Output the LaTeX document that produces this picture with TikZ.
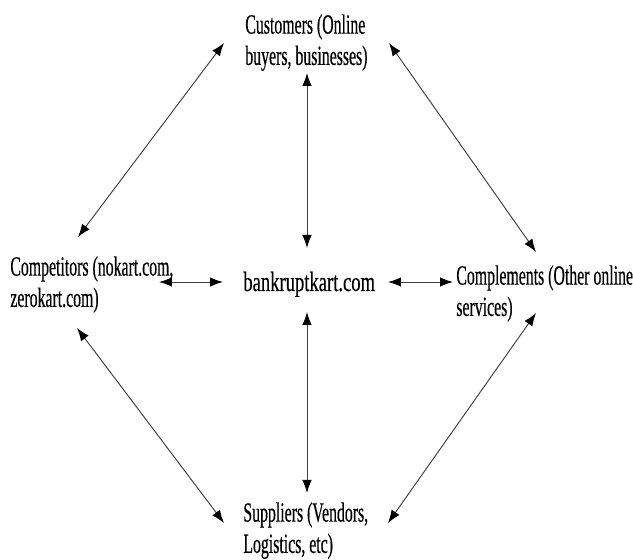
\documentclass[tikz,border=0pt]{standalone}
\usepackage{fontspec}
\setmainfont[FakeStretch=0.57,FakeBold=0.4]{Liberation Serif}
\newfontfamily\corefont[FakeStretch=0.67,FakeBold=0.4]{Liberation Serif}
\usetikzlibrary{arrows.meta}

\begin{document}
\begin{tikzpicture}[
    x=0.02cm, y=-0.02cm,
    lbl/.style={anchor=north west, inner sep=0pt, align=left,
                font=\fontsize{15.8}{17.8}\selectfont},
    arr/.style={{Latex[length=2.6mm,width=1.9mm,color=black]}-{Latex[length=2.6mm,width=1.9mm,color=black]},
                line width=0.55pt, black!75}
]
    \useasboundingbox (0,0) rectangle (633,560);

    \node[lbl] (cust) at (245,14) {Customers (Online\\buyers, businesses)};
    \node[lbl] (compet) at (10,256) {Competitors (nokart.com,\\zerokart.com)};
    \node[lbl, anchor=base west, font=\fontsize{15.8}{17.8}\corefont] (core) at (243,291) {bankruptkart.com};
    \node[lbl] (compl) at (456,265) {Complements (Other online\\services)};
    \node[lbl] (suppl) at (243,502) {Suppliers (Vendors,\\Logistics, etc)};

    \draw[arr] ([shift={(-21,29)}]cust.north west) -- ([shift={(68,-19)}]compet.north west);
    \draw[arr] ([shift={(144,29)}]cust.north west) -- ([shift={(80,-13)}]compl.north west);
    \draw[arr] ([shift={(62,59)}]cust.north west) -- ([shift={(64,-43)}]core.base west);
    \draw[arr] ([shift={(149,26)}]compet.north west) -- ([shift={(-20,-9)}]core.base west);
    \draw[arr] ([shift={(145,-9)}]core.base west) -- ([shift={(-3,17)}]compl.north west);
    \draw[arr] ([shift={(64,21)}]core.base west) -- ([shift={(64,-9)}]suppl.north west);
    \draw[arr] ([shift={(67,72)}]compet.north west) -- ([shift={(-19,21)}]suppl.north west);
    \draw[arr] ([shift={(80,48)}]compl.north west) -- ([shift={(145,21)}]suppl.north west);
\end{tikzpicture}
\end{document}
